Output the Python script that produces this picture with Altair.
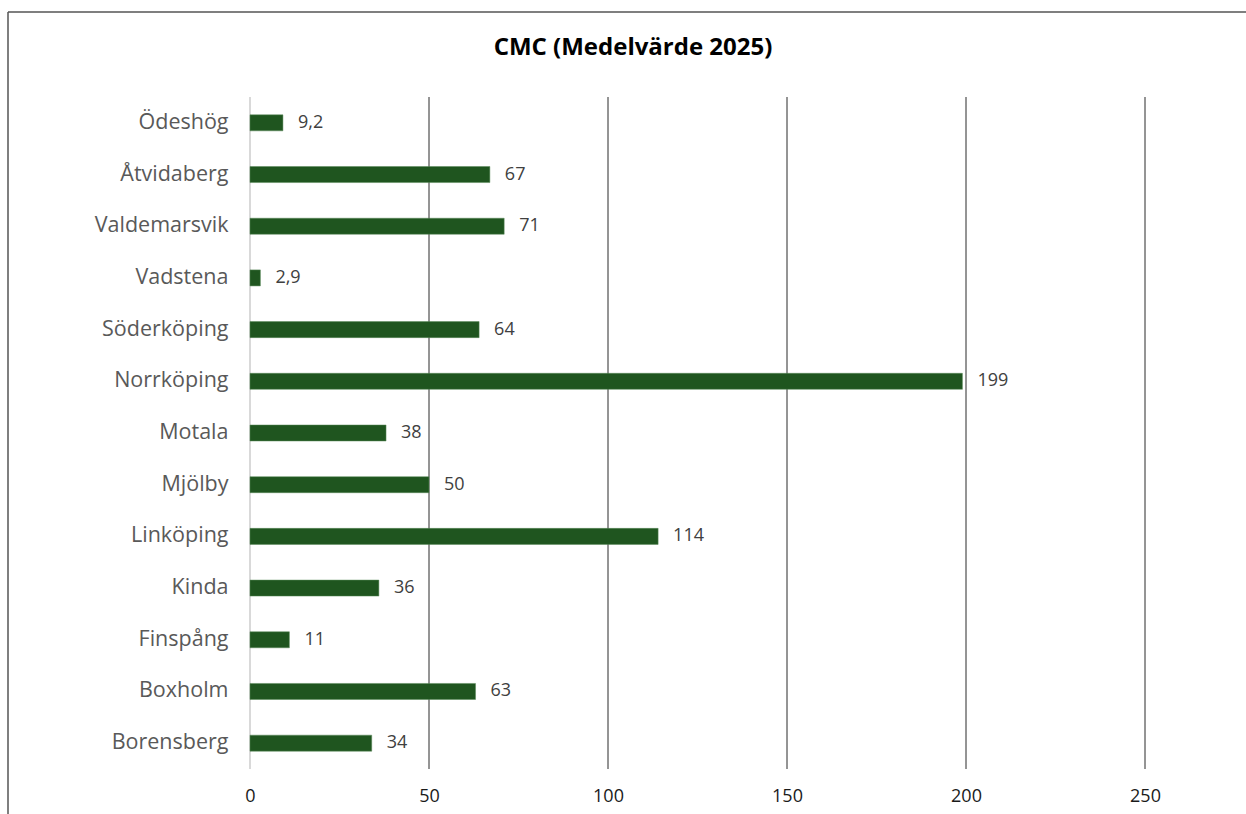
import altair as alt
import pandas as pd

categories = ["Ödeshög", "Åtvidaberg", "Valdemarsvik", "Vadstena", "Söderköping",
              "Norrköping", "Motala", "Mjölby", "Linköping", "Kinda", "Finspång",
              "Boxholm", "Borensberg"]
values = [9.2, 67, 71, 2.9, 64, 199, 38, 50, 114, 36, 11, 63, 34]
value_labels = ["9,2", "67", "71", "2,9", "64", "199", "38", "50", "114", "36", "11", "63", "34"]
grid_values = [50, 100, 150, 200, 250]
x_ticks = [0, 50, 100, 150, 200, 250]
title_text = "CMC (Medelvärde 2025)"

FONT = "Open Sans"

df = pd.DataFrame({"kommun": categories, "value": values, "label": value_labels})
grid_df = pd.DataFrame({"g": grid_values})
zero_df = pd.DataFrame({"g": [0]})
title_df = pd.DataFrame({"t": [title_text]})

x_scale = alt.Scale(domain=[0, 250], nice=False, zero=True)
y_scale = alt.Scale(paddingInner=0.69, paddingOuter=0.345)
x_axis = alt.Axis(values=x_ticks, grid=False, domain=False, ticks=False,
                  labelFont=FONT, labelFontSize=18, labelColor="#1a1a1a",
                  labelPadding=18, title=None, labelFlush=False, labelAlign="center",
                  labelOverlap=False)
y_axis = alt.Axis(domain=False, ticks=False, labelFont=FONT, labelFontSize=21.5,
                  labelColor="#595959", labelPadding=22, title=None, labelLimit=300)

grid = alt.Chart(grid_df).mark_rule(color="#2b2b2b", strokeWidth=1).encode(
    x=alt.X("g:Q", scale=x_scale, axis=x_axis)
)
zero = alt.Chart(zero_df).mark_rule(color="#d9d9d9", strokeWidth=2).encode(
    x=alt.X("g:Q", scale=x_scale, axis=x_axis)
)

bars = alt.Chart(df).mark_bar(color="#1f551f", stroke="#5b8a5b", strokeWidth=0.5).encode(
    x=alt.X("value:Q", scale=x_scale, axis=x_axis),
    y=alt.Y("kommun:N", sort=categories, scale=y_scale, axis=y_axis),
)

text = alt.Chart(df).mark_text(align="left", baseline="middle", dx=15, font=FONT,
                               fontSize=18, color="#404040").encode(
    x=alt.X("value:Q", scale=x_scale, axis=x_axis),
    y=alt.Y("kommun:N", sort=categories, scale=y_scale, axis=y_axis),
    text="label:N",
)

title = alt.Chart(title_df).mark_text(align="center", baseline="middle", font=FONT,
                                      fontSize=24, fontWeight="bold", color="#000000").encode(
    x=alt.value(383), y=alt.value(-49), text="t:N"
)

border_top = alt.Chart(title_df).mark_rule(color="#555555", strokeWidth=1.5).encode(
    x=alt.value(-242), x2=alt.value(1000), y=alt.value(-85)
)
border_left = alt.Chart(title_df).mark_rule(color="#555555", strokeWidth=1.5).encode(
    x=alt.value(-242), y=alt.value(-85), y2=alt.value(760)
)

chart = alt.layer(grid, zero, bars, text, title, border_top, border_left).properties(
    width=895, height=672,
    autosize=alt.AutoSizeParams(type="none"),
    padding={"left": 250, "top": 97, "right": 101, "bottom": 45},
    background="white",
).configure_view(stroke=None)

chart.save("out.html", embed_options={"renderer": "svg", "actions": False})
